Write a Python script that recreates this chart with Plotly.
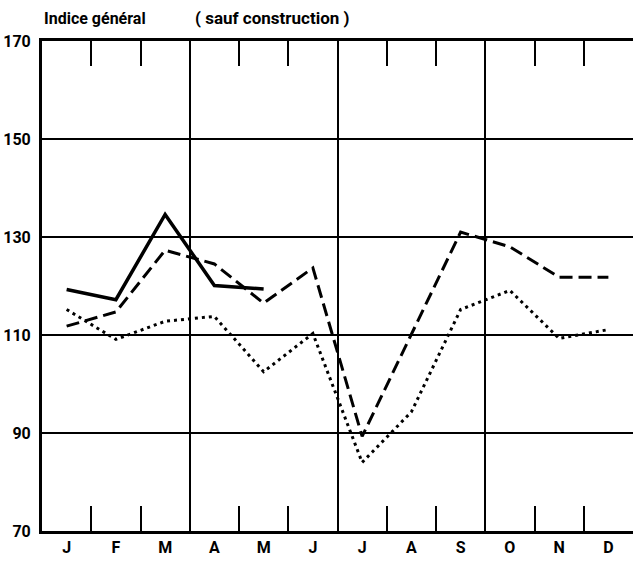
import plotly.graph_objects as go

months = ["J", "F", "M", "A", "M", "J", "J", "A", "S", "O", "N", "D"]
month_pos = [0.5, 1.5, 2.5, 3.5, 4.5, 5.5, 6.5, 7.5, 8.5, 9.5, 10.5, 11.5]
boundaries_minor = [1, 2, 4, 5, 7, 8, 10, 11]
boundaries_quarter = [3, 6, 9]
y_ticks = [70, 90, 110, 130, 150, 170]

solid_vals = [119.3, 117.2, 134.6, 120.1, 119.4]
dashed_vals = [111.8, 114.7, 127.3, 124.5, 116.5, 123.7, 89.3, 110.0, 131.0, 128.0, 121.8, 121.8]
dotted_vals = [115.2, 109.1, 112.8, 113.8, 102.5, 110.3, 84.0, 94.3, 115.2, 119.1, 109.3, 111.1]

FONT = "Liberation Sans Narrow, Roboto, sans-serif"

fig = go.Figure()
fig.add_trace(go.Scatter(x=month_pos, y=dotted_vals, mode="lines",
                         line=dict(color="black", width=3, dash="3px,4px"),
                         xaxis="x2", hoverinfo="skip"))
fig.add_trace(go.Scatter(x=month_pos, y=dashed_vals, mode="lines",
                         line=dict(color="black", width=3, dash="13px,6px"),
                         hoverinfo="skip"))
fig.add_trace(go.Scatter(x=month_pos[:len(solid_vals)], y=solid_vals, mode="lines",
                         line=dict(color="black", width=3.5),
                         hoverinfo="skip"))

fig.update_layout(
    width=635, height=569,
    margin=dict(l=42, r=2, t=41, b=38, autoexpand=False),
    paper_bgcolor="white", plot_bgcolor="white",
    showlegend=False,
    font=dict(family=FONT, color="black", size=15),
    xaxis=dict(
        range=[0, 12], tickmode="array", tickvals=boundaries_quarter,
        showticklabels=False, ticks="inside", ticklen=25, tickwidth=1.5, tickcolor="black",
        showgrid=True, gridcolor="black", gridwidth=1.5,
        showline=True, linecolor="black", linewidth=3, mirror="ticks",
        minor=dict(tickmode="array", tickvals=boundaries_minor, ticks="inside",
                   ticklen=25, tickwidth=1.5, tickcolor="black", showgrid=False),
        zeroline=False, fixedrange=True, automargin=False,
    ),
    xaxis2=dict(
        range=[0, 12], overlaying="x", side="bottom", anchor="y",
        tickmode="array", tickvals=month_pos, ticktext=months,
        ticks="", showgrid=False, showline=False, zeroline=False,
        tickfont=dict(family=FONT, size=16, color="black", weight="bold"),
        ticklabelstandoff=5, fixedrange=True, automargin=False,
    ),
    yaxis=dict(
        range=[70, 170], tickmode="array", tickvals=y_ticks,
        ticks="", showgrid=True, gridcolor="black", gridwidth=1.5,
        showline=True, linecolor="black", linewidth=3, mirror=False,
        zeroline=False, fixedrange=True, automargin=False,
        tickfont=dict(family=FONT, size=16, color="black", weight="bold"),
        ticklabelstandoff=5,
    ),
    annotations=[
        dict(text="Indice général", xref="paper", yref="paper", x=0.0, y=1.046,
             xanchor="left", yanchor="middle", showarrow=False,
             font=dict(family=FONT, size=16, color="black", weight="bold")),
        dict(text="(\u00a0sauf construction\u00a0)", xref="paper", yref="paper", x=0.2555, y=1.046,
             xanchor="left", yanchor="middle", showarrow=False,
             font=dict(family=FONT, size=17, color="black", weight="bold")),
    ],
)

fig.write_html("out.html", config={"displayModeBar": False},
               post_script="document.body.style.margin='0';")
